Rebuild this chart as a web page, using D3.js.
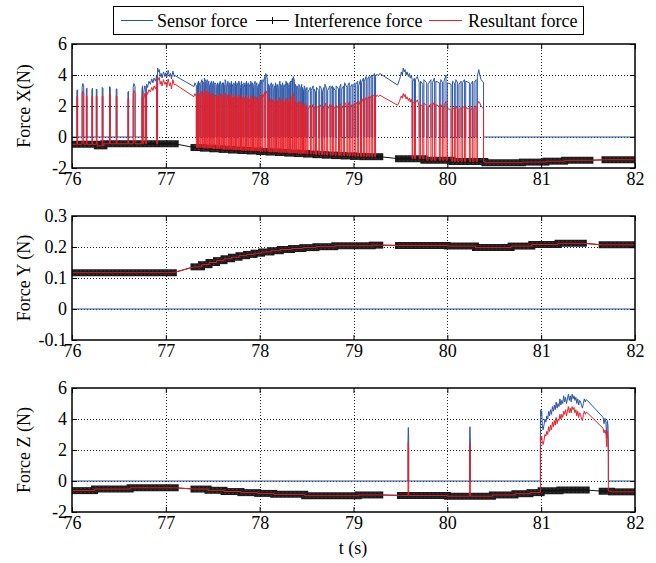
<!DOCTYPE html>
<html>
<head>
<meta charset="utf-8">
<script src="https://cdn.jsdelivr.net/npm/d3@7"></script>
<style>
html, body { margin: 0; padding: 0; background: #fff; }
svg { display: block; font-family: "Liberation Serif", "Times New Roman", serif; }
</style>
</head>
<body>
<svg id="chart" width="656" height="563"></svg>
<script>
// ---- tick labels ----
const timeTicks = [76, 77, 78, 79, 80, 81, 82];
const forceXTicks = [-2, 0, 2, 4, 6];
const forceYTicks = [-0.1, 0, 0.1, 0.2, 0.3];
const forceZTicks = [-2, 0, 2, 4, 6];
const seriesNames = ["Sensor force", "Interference force", "Resultant force"];

// ---- interference force: recorded stretches [t start, t end, force (N)] ----
const interfX = [
  [76.00, 76.27, -0.47], [76.27, 76.34, -0.57], [76.34, 77.10, -0.44],
  [77.30, 77.40, -0.68], [77.40, 77.50, -0.72], [77.50, 77.60, -0.76], [77.60, 77.70, -0.80],
  [77.70, 77.80, -0.84], [77.80, 77.90, -0.87], [77.90, 78.00, -0.90], [78.00, 78.10, -0.94],
  [78.10, 78.20, -0.97], [78.20, 78.30, -1.00], [78.30, 78.40, -1.04], [78.40, 78.50, -1.07],
  [78.50, 78.60, -1.10], [78.60, 78.70, -1.14], [78.70, 78.80, -1.17], [78.80, 78.90, -1.20],
  [78.90, 79.00, -1.22], [79.00, 79.10, -1.25], [79.10, 79.28, -1.27],
  [79.48, 79.75, -1.40], [79.75, 80.05, -1.50], [80.05, 80.40, -1.58], [80.40, 80.80, -1.66],
  [80.80, 81.05, -1.62], [81.05, 81.25, -1.56], [81.25, 81.52, -1.50],
  [81.68, 82.00, -1.47]
];
const interfY = [
  [76.00, 77.08, 0.117],
  [77.30, 77.38, 0.136], [77.38, 77.46, 0.143], [77.46, 77.54, 0.150], [77.54, 77.62, 0.156],
  [77.62, 77.70, 0.162], [77.70, 77.78, 0.167], [77.78, 77.86, 0.172], [77.86, 77.94, 0.176],
  [77.94, 78.02, 0.180], [78.02, 78.12, 0.184], [78.12, 78.22, 0.188], [78.22, 78.34, 0.192],
  [78.34, 78.46, 0.195], [78.46, 78.60, 0.198], [78.60, 78.80, 0.201], [78.80, 79.20, 0.204],
  [79.20, 79.28, 0.206],
  [79.48, 80.00, 0.205], [80.00, 80.30, 0.203], [80.30, 80.68, 0.198], [80.68, 80.90, 0.203],
  [80.90, 81.18, 0.208], [81.18, 81.45, 0.212],
  [81.65, 82.00, 0.207]
];
const interfZ = [
  [76.00, 76.24, -0.62], [76.24, 76.62, -0.52], [76.62, 77.10, -0.44],
  [77.30, 77.45, -0.52], [77.45, 77.62, -0.60], [77.62, 77.80, -0.68], [77.80, 77.98, -0.75],
  [77.98, 78.15, -0.80], [78.15, 78.48, -0.86], [78.48, 79.05, -0.95], [79.05, 79.28, -0.90],
  [79.50, 80.00, -0.93], [80.00, 80.48, -0.98], [80.48, 80.72, -0.90], [80.72, 80.88, -0.82],
  [80.88, 81.00, -0.75], [81.00, 81.20, -0.63], [81.20, 81.48, -0.58],
  [81.65, 81.75, -0.66], [81.75, 82.00, -0.70]
];

// ---- contact bursts: samples [t, sensor force, resultant force] (N) ----
const contactX = [
  [[76.052,3.00,2.60],[76.060,3.05,2.55]],
  [[76.108,3.20,2.80],[76.115,3.45,2.95],[76.125,3.30,2.85]],
  [[76.153,3.10,2.65],[76.160,3.15,2.60]],
  [[76.212,3.05,2.60],[76.219,3.15,2.65]],
  [[76.259,3.10,2.65],[76.266,3.05,2.60]],
  [[76.322,3.20,2.65],[76.330,3.15,2.60]],
  [[76.400,3.25,2.80],[76.408,3.20,2.75]],
  [[76.471,3.10,2.65],[76.479,3.10,2.60]],
  [[76.596,2.90,2.45],[76.603,2.95,2.50]],
  [[76.652,3.20,2.75],[76.660,3.45,3.00],[76.672,3.25,2.80]],
  [[76.745,3.00,2.55],[76.752,3.30,2.80]],
  [[76.765,2.90,2.45],[76.775,3.30,2.80],[76.785,3.20,2.70]],
  [[76.795,3.40,2.90],[76.805,3.20,2.75],[76.820,3.60,3.05],[76.835,3.40,2.90],[76.850,3.75,3.20],
   [76.862,3.50,3.00],[76.875,3.80,3.30],[76.890,3.60,3.10],[76.902,3.95,3.40]],
  [[76.912,4.45,3.80],[76.920,4.20,3.70],[76.930,4.35,3.85],[76.940,3.90,3.40],[76.950,4.10,3.60],
   [76.960,3.80,3.30],[76.975,4.20,3.70],[76.990,3.90,3.40],[77.000,4.15,3.55],[77.010,3.85,3.20],
   [77.025,4.30,3.75],[77.040,3.90,3.30],[77.050,4.10,3.50],[77.060,3.75,3.10],[77.075,4.25,3.70],
   [77.090,3.90,3.35],[77.100,3.95,3.40],[77.300,3.25,2.60],[77.310,3.50,2.80],[77.325,3.30,2.60]],
  [[77.337,3.40,2.70],[77.348,3.60,2.90]],
  [[77.355,3.50,2.80],[77.366,3.30,2.60]],
  [[77.373,3.50,2.75],[77.385,3.70,2.95]],
  [[77.392,3.60,2.90],[77.404,3.40,2.70]],
  [[77.411,3.80,3.05],[77.424,3.60,2.85]],
  [[77.431,3.50,2.80],[77.441,3.70,2.95]],
  [[77.449,3.40,2.65],[77.458,3.60,2.85]],
  [[77.466,3.30,2.55],[77.478,3.50,2.75]],
  [[77.485,3.60,2.85],[77.496,3.40,2.65]],
  [[77.506,3.60,2.80],[77.516,3.30,2.50]],
  [[77.523,3.50,2.70],[77.535,3.40,2.65]],
  [[77.542,3.20,2.45],[77.552,3.50,2.70]],
  [[77.560,3.30,2.50],[77.572,3.50,2.70]],
  [[77.579,3.60,2.80],[77.590,3.40,2.60]],
  [[77.597,3.30,2.50],[77.607,3.50,2.70]],
  [[77.614,3.50,2.70],[77.624,3.30,2.45]],
  [[77.632,3.70,2.85],[77.643,3.40,2.55]],
  [[77.651,3.20,2.40],[77.662,3.60,2.75]],
  [[77.670,3.40,2.60],[77.680,3.50,2.70]],
  [[77.688,3.30,2.45],[77.700,3.60,2.75]],
  [[77.707,3.40,2.55],[77.717,3.20,2.40]],
  [[77.724,3.50,2.65],[77.735,3.30,2.45]],
  [[77.742,3.60,2.75],[77.752,3.40,2.55]],
  [[77.760,3.30,2.40],[77.771,3.50,2.60]],
  [[77.778,3.60,2.70],[77.788,3.30,2.45]],
  [[77.796,3.20,2.35],[77.807,3.60,2.70]],
  [[77.814,3.40,2.50],[77.825,3.30,2.40]],
  [[77.832,3.50,2.60],[77.843,3.20,2.30]],
  [[77.850,3.40,2.50],[77.860,3.60,2.70]],
  [[77.868,3.30,2.40],[77.879,3.50,2.55]],
  [[77.886,3.20,2.30],[77.897,3.40,2.45]],
  [[77.905,3.60,2.65],[77.915,3.30,2.35]],
  [[77.923,3.50,2.55],[77.934,3.20,2.25]],
  [[77.941,3.40,2.45],[77.952,3.60,2.65]],
  [[77.960,3.30,2.35],[77.970,3.50,2.55]],
  [[77.978,3.20,2.25],[77.989,3.40,2.45]],
  [[77.996,3.30,2.35],[78.007,3.60,2.65]],
  [[78.015,3.40,2.45],[78.026,3.70,2.75]],
  [[78.035,3.50,2.55],[78.055,3.90,2.90]],
  [[78.065,4.10,3.00],[78.085,3.70,2.70]],
  [[78.095,3.40,2.40],[78.105,3.20,2.25]],
  [[78.112,3.30,2.30],[78.124,3.50,2.50]],
  [[78.131,3.20,2.20],[78.142,3.40,2.40]],
  [[78.150,3.10,2.10],[78.161,3.30,2.30]],
  [[78.168,3.50,2.45],[78.179,3.20,2.20]],
  [[78.187,3.40,2.35],[78.198,3.10,2.05]],
  [[78.205,3.30,2.25],[78.216,3.60,2.55]],
  [[78.224,3.40,2.35],[78.235,3.20,2.15]],
  [[78.242,3.50,2.45],[78.253,3.30,2.25]],
  [[78.261,3.20,2.10],[78.272,3.40,2.30]],
  [[78.280,3.60,2.50],[78.290,3.30,2.20]],
  [[78.298,3.50,2.40],[78.309,3.20,2.10]],
  [[78.317,3.40,2.30],[78.328,3.60,2.50]],
  [[78.336,3.50,2.45],[78.350,3.80,2.70]],
  [[78.358,3.90,2.80],[78.372,3.60,2.50]],
  [[78.380,3.40,2.30],[78.391,3.20,2.10]],
  [[78.399,3.30,2.20],[78.410,3.10,2.00]],
  [[78.418,3.40,2.30],[78.429,3.20,2.10]],
  [[78.437,3.10,2.00],[78.448,3.40,2.30]],
  [[78.456,3.20,2.10],[78.467,3.00,1.90]],
  [[78.475,3.30,2.15],[78.486,3.10,1.95]],
  [[78.494,3.00,1.90],[78.505,3.20,2.05]],
  [[78.515,2.90,1.80],[78.540,3.20,2.05]],
  [[78.550,3.00,1.85],[78.570,3.30,2.10]],
  [[78.580,3.10,1.95],[78.595,2.90,1.75]],
  [[78.605,3.20,2.00],[78.630,3.00,1.85]],
  [[78.640,3.30,2.10],[78.660,3.10,1.90]],
  [[78.670,2.90,1.75],[78.685,3.20,2.00]],
  [[78.695,3.40,2.20],[78.715,3.10,1.90]],
  [[78.725,3.00,1.80],[78.750,3.30,2.10]],
  [[78.760,3.10,1.90],[78.775,3.30,2.10]],
  [[78.785,3.20,2.00],[78.805,3.00,1.80]],
  [[78.815,3.30,2.05],[78.840,3.10,1.85]],
  [[78.850,3.20,2.00],[78.865,3.40,2.15]],
  [[78.875,3.10,1.85],[78.895,3.30,2.05]],
  [[78.905,3.50,2.25],[78.930,3.20,1.95]],
  [[78.940,3.30,2.05],[78.955,3.50,2.25]],
  [[78.965,3.20,1.95],[78.985,3.40,2.10]],
  [[78.995,3.30,2.00],[79.015,3.50,2.20]],
  [[79.025,3.40,2.10],[79.045,3.60,2.30]],
  [[79.055,3.30,2.00],[79.075,3.70,2.40]],
  [[79.085,3.50,2.20],[79.105,3.80,2.50]],
  [[79.115,3.60,2.30],[79.135,3.90,2.55]],
  [[79.145,3.70,2.40],[79.165,3.90,2.60]],
  [[79.175,3.80,2.50],[79.195,4.00,2.70]],
  [[79.205,3.90,2.60],[79.225,4.10,2.75]],
  [[79.235,3.90,2.55],[79.250,4.05,2.70],[79.265,3.95,2.60],[79.280,4.10,2.70],[79.470,3.35,2.05],
   [79.490,3.70,2.30],[79.500,3.90,2.50],[79.510,4.20,2.65],[79.520,4.00,2.50],[79.530,4.45,2.80],
   [79.540,4.20,2.60],[79.550,4.35,2.75],[79.560,4.00,2.45],[79.570,4.20,2.60],[79.585,3.90,2.35],
   [79.595,4.10,2.50],[79.605,3.80,2.25],[79.615,4.00,2.45],[79.625,3.70,2.20]],
  [[79.632,3.60,2.15],[79.650,3.80,2.30]],
  [[79.660,3.70,2.20],[79.680,3.90,2.40],[79.700,3.50,2.00]],
  [[79.715,3.60,2.10],[79.738,3.40,1.95]],
  [[79.750,3.70,2.20],[79.780,3.50,2.00]],
  [[79.795,3.40,1.90],[79.825,3.70,2.15]],
  [[79.840,3.50,2.00],[79.862,3.80,2.25]],
  [[79.878,3.60,2.10],[79.915,3.50,1.95]],
  [[79.930,3.70,2.10],[79.950,3.50,1.90]],
  [[79.964,3.60,2.00],[79.986,4.00,2.30]],
  [[80.000,3.50,1.85],[80.040,3.40,1.75]],
  [[80.055,3.60,1.90],[80.075,3.50,1.80]],
  [[80.090,3.70,2.00],[80.110,3.50,1.80]],
  [[80.124,3.40,1.75],[80.146,3.60,1.90]],
  [[80.160,3.50,1.85],[80.182,3.70,2.00]],
  [[80.196,3.60,1.90],[80.235,3.50,1.80]],
  [[80.250,3.40,1.70],[80.270,3.60,1.95]],
  [[80.285,3.50,1.80],[80.306,3.70,2.00]],
  [[80.320,3.90,2.10],[80.335,4.35,2.30],[80.345,4.00,2.20],[80.360,3.70,2.00],[80.375,3.60,1.90],[80.386,3.50,1.80]]
];
const contactY = [];
const contactZ = [
  [[79.581,2.70,1.80],[79.584,3.45,2.50],[79.588,2.90,2.00]],
  [[80.238,2.80,1.90],[80.241,3.50,2.40],[80.245,2.60,1.70]],
  [[80.992,3.60,2.20],[80.996,4.60,2.90],[81.000,4.20,2.70],[81.006,4.50,2.90],[81.012,3.60,2.50],
   [81.020,3.30,2.35],[81.030,3.60,2.60],[81.040,4.00,3.00],[81.050,3.80,2.90],[81.060,4.20,3.20],
   [81.070,4.00,3.00],[81.080,4.50,3.50],[81.090,4.20,3.20],[81.100,4.60,3.60],[81.110,4.30,3.30],
   [81.120,4.80,3.80],[81.130,4.50,3.50],[81.140,4.90,3.90],[81.150,4.60,3.60],[81.160,5.10,4.10],
   [81.170,4.70,3.70],[81.180,5.00,4.00],[81.190,4.80,3.90],[81.200,5.30,4.30],[81.210,4.90,4.00],
   [81.220,5.20,4.30],[81.230,5.00,4.10],[81.240,5.50,4.50],[81.250,5.10,4.30],[81.260,5.40,4.60],
   [81.270,5.00,4.20],[81.280,5.30,4.50],[81.290,5.60,4.80],[81.300,5.20,4.40],[81.310,5.50,4.70],
   [81.320,5.10,4.40],[81.330,5.60,4.80],[81.340,5.30,4.60],[81.350,5.50,4.75],[81.360,5.20,4.40],
   [81.370,5.40,4.60],[81.380,5.00,4.20],[81.390,5.30,4.50],[81.400,4.90,4.10],[81.410,5.20,4.40],
   [81.420,5.10,4.30],[81.430,4.90,4.00],[81.440,4.70,3.90],[81.450,5.00,4.30],[81.460,5.30,4.50],
   [81.470,5.10,4.30],[81.480,5.25,4.45],[81.500,5.15,4.35],[81.660,4.10,3.40],[81.670,3.70,3.10],
   [81.680,4.05,3.30],[81.690,3.80,3.00],[81.700,2.80,2.20],[81.705,3.90,3.20],[81.712,3.60,2.60],
   [81.716,2.50,1.50]]
];

// ---- layout & styles ----
const svg = d3.select("#chart");
const plotLeft = 72, plotRight = 635;
const colSensor = "#2a55a6", colInterf = "#111", colResult = "#e8202a";
const fontSize = 18;

const x = d3.scaleLinear().domain([76, 82]).range([plotLeft, plotRight]);

const panels = [
  { top: 44,  bottom: 168, domain: [-2, 6],     ticks: forceXTicks, label: "Force X(N)",  interf: interfX, contact: contactX, fmt: d => String(d) },
  { top: 216, bottom: 340, domain: [-0.1, 0.3], ticks: forceYTicks, label: "Force Y (N)", interf: interfY, contact: contactY, fmt: d => d === 0 ? "0" : d.toFixed(1) },
  { top: 388, bottom: 512, domain: [-2, 6],     ticks: forceZTicks, label: "Force Z (N)", interf: interfZ, contact: contactZ, fmt: d => String(d) }
];

// force value of the interference stretch that holds time t
function runValue(interf, t) {
  for (const r of interf) if (t >= r[0] && t <= r[1]) return r[2];
  let best = interf[0], bd = Infinity;
  interf.forEach(r => {
    const d = Math.min(Math.abs(t - r[0]), Math.abs(t - r[1]));
    if (d < bd) { bd = d; best = r; }
  });
  return best[2];
}

function interfVertices(interf) {
  const pts = [];
  interf.forEach(r => { pts.push([r[0], r[2]]); pts.push([r[1], r[2]]); });
  return pts;
}

function sensorPoints(contact) {
  const pts = [[76, 0]];
  contact.forEach(b => {
    pts.push([b[0][0], 0]);
    b.forEach(s => pts.push([s[0], s[1]]));
    pts.push([b[b.length - 1][0], 0]);
  });
  pts.push([82, 0]);
  return pts;
}

function resultantPoints(interf, contact) {
  const base = interfVertices(interf);
  const pts = [];
  let i = 0;
  contact.forEach(b => {
    const t0 = b[0][0], t1 = b[b.length - 1][0];
    while (i < base.length && base[i][0] < t0) { pts.push(base[i]); i++; }
    pts.push([t0, runValue(interf, t0)]);
    b.forEach(s => pts.push([s[0], s[2]]));
    pts.push([t1, runValue(interf, t1)]);
    while (i < base.length && base[i][0] <= t1) i++;
  });
  while (i < base.length) { pts.push(base[i]); i++; }
  return pts;
}

function styleAxisText(g) {
  g.select(".domain").remove();
  g.selectAll("line").attr("stroke", "#000").attr("stroke-width", 1);
  g.selectAll("text")
    .attr("font-family", '"Liberation Serif", "Times New Roman", serif')
    .attr("font-size", fontSize)
    .attr("fill", "#000");
}

panels.forEach((p, k) => {
  const y = d3.scaleLinear().domain(p.domain).range([p.bottom, p.top]);
  const g = svg.append("g");
  const clipId = "clip" + k;
  svg.append("clipPath").attr("id", clipId)
    .append("rect").attr("x", plotLeft).attr("y", p.top)
    .attr("width", plotRight - plotLeft).attr("height", p.bottom - p.top);

  // grid
  const grid = g.append("g");
  grid.selectAll(".gx").data(timeTicks.slice(1, -1)).join("line")
    .attr("x1", d => Math.round(x(d)) + 0.5).attr("x2", d => Math.round(x(d)) + 0.5)
    .attr("y1", p.top).attr("y2", p.bottom)
    .attr("stroke", "#222").attr("stroke-width", 1).attr("stroke-dasharray", "1,2");
  grid.selectAll(".gy").data(p.ticks.slice(1, -1)).join("line")
    .attr("y1", d => Math.round(y(d)) + 0.5).attr("y2", d => Math.round(y(d)) + 0.5)
    .attr("x1", plotLeft).attr("x2", plotRight)
    .attr("stroke", "#222").attr("stroke-width", 1).attr("stroke-dasharray", "1,2");

  const plot = g.append("g").attr("clip-path", `url(#${clipId})`);
  const line = d3.line().x(d => x(d[0])).y(d => y(d[1]));

  // sensor force
  plot.append("path").attr("d", line(sensorPoints(p.contact)))
    .attr("fill", "none").attr("stroke", colSensor).attr("stroke-width", 1);

  // interference force: dense "+" markers form a dark band on each recorded stretch
  plot.selectAll(".band").data(p.interf).join("line")
    .attr("x1", r => x(r[0])).attr("x2", r => x(r[1]))
    .attr("y1", r => y(r[2])).attr("y2", r => y(r[2]))
    .attr("stroke", "#1a1a1a").attr("stroke-width", 7).attr("stroke-linecap", "square");
  [-2, 2].forEach(off => {
    plot.selectAll(".tex").data(p.interf).join("line")
      .attr("x1", r => x(r[0])).attr("x2", r => x(r[1]))
      .attr("y1", r => y(r[2]) + off).attr("y2", r => y(r[2]) + off)
      .attr("stroke", "#666").attr("stroke-width", 1).attr("stroke-opacity", 0.35)
      .attr("stroke-dasharray", "2,2");
  });
  plot.append("path").attr("d", line(interfVertices(p.interf)))
    .attr("fill", "none").attr("stroke", colInterf).attr("stroke-width", 1);

  // resultant force
  plot.append("path").attr("d", line(resultantPoints(p.interf, p.contact)))
    .attr("fill", "none").attr("stroke", colResult).attr("stroke-width", 1);

  // axes (ticks inside, box on)
  g.append("g").attr("transform", `translate(${plotLeft},0)`)
    .call(d3.axisLeft(y).tickValues(p.ticks).tickFormat(p.fmt).tickSizeInner(-5).tickSizeOuter(0).tickPadding(5))
    .call(styleAxisText);
  g.append("g").attr("transform", `translate(${plotRight},0)`)
    .call(d3.axisRight(y).tickValues(p.ticks).tickFormat(() => "").tickSizeInner(-5).tickSizeOuter(0))
    .call(styleAxisText);
  g.append("g").attr("transform", `translate(0,${p.bottom})`)
    .call(d3.axisBottom(x).tickValues(timeTicks).tickFormat(d3.format("d")).tickSizeInner(-5).tickSizeOuter(0).tickPadding(4))
    .call(styleAxisText);
  g.append("g").attr("transform", `translate(0,${p.top})`)
    .call(d3.axisTop(x).tickValues(timeTicks).tickFormat(() => "").tickSizeInner(-5).tickSizeOuter(0))
    .call(styleAxisText);

  g.append("rect").attr("x", plotLeft).attr("y", p.top)
    .attr("width", plotRight - plotLeft).attr("height", p.bottom - p.top)
    .attr("fill", "none").attr("stroke", "#000").attr("stroke-width", 1.5);

  // y label
  g.append("text")
    .attr("transform", `translate(30,${(p.top + p.bottom) / 2}) rotate(-90)`)
    .attr("text-anchor", "middle").attr("font-size", fontSize).attr("fill", "#000")
    .text(p.label);
});

// x label
svg.append("text").attr("x", 353).attr("y", 554).attr("text-anchor", "middle")
  .attr("font-size", fontSize).attr("fill", "#000").text("t (s)");

// legend
const lg = svg.append("g");
lg.append("rect").attr("x", 113.5).attr("y", 6.5).attr("width", 470).attr("height", 28)
  .attr("fill", "#fff").attr("stroke", "#000").attr("stroke-width", 1);
const legendItems = [
  { name: seriesNames[0], color: colSensor, x0: 121, x1: 153, tx: 157, marker: false },
  { name: seriesNames[1], color: "#000",    x0: 256, x1: 289, tx: 294, marker: true },
  { name: seriesNames[2], color: colResult, x0: 429, x1: 462, tx: 468, marker: false }
];
legendItems.forEach(it => {
  lg.append("line").attr("x1", it.x0).attr("x2", it.x1).attr("y1", 20.5).attr("y2", 20.5)
    .attr("stroke", it.color).attr("stroke-width", 1);
  if (it.marker) {
    const cx = (it.x0 + it.x1) / 2;
    lg.append("path").attr("d", `M${cx - 3.5},20.5H${cx + 3.5}M${cx},17V24`)
      .attr("stroke", "#000").attr("stroke-width", 1);
  }
  lg.append("text").attr("x", it.tx).attr("y", 27).attr("font-size", fontSize)
    .attr("fill", "#000").text(it.name);
});
</script>
</body>
</html>
